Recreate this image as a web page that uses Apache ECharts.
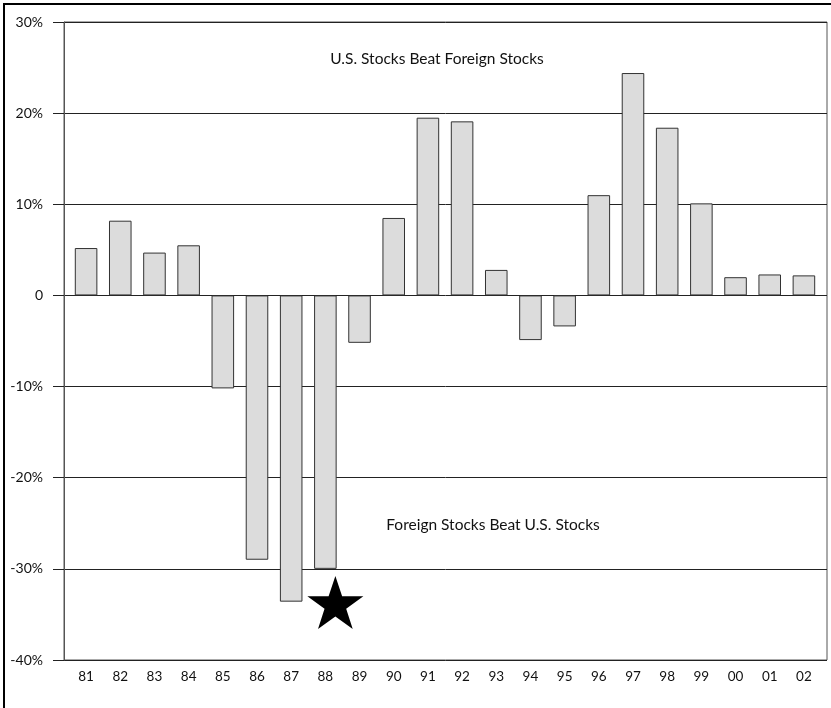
<!DOCTYPE html>
<html>
<head>
<meta charset="utf-8">
<script src="https://cdn.jsdelivr.net/npm/echarts@6/dist/echarts.min.js"></script>
<style>
  html, body { margin: 0; padding: 0; background: #fff; }
  #main { width: 831px; height: 708px; }
</style>
</head>
<body>
<div id="main"></div>
<script>
// years (two-digit labels)
var years = ['81', '82', '83', '84', '85', '86', '87', '88', '89', '90', '91',
  '92', '93', '94', '95', '96', '97', '98', '99', '00', '01', '02'];
// US minus foreign return, %
var diffs = [5.2, 8.2, 4.7, 5.5, -10.2, -29.0, -33.6, -30.0, -5.2, 8.5, 19.5,
  19.1, 2.8, -4.9, -3.4, 11.0, 24.4, 18.4, 10.1, 2.0, 2.3, 2.2];
// star marker under 1988
var starYear = '88';
var starValue = -33.7;

var font = 'Lato, "DejaVu Sans", sans-serif';
var starPath = 'path://M50,0 L61.8,35.1 L98.9,35.1 L68.9,56.9 L80.3,92.1 L50,70.3 L19.7,92.1 L31.1,56.9 L1.1,35.1 L38.2,35.1 Z';

var chart = echarts.init(document.getElementById('main'));
chart.setOption({
  animation: false,
  // grid 0 = frame + gridlines, grid 1 = bars (slightly inset like the original)
  grid: [
    { left: 64, right: 4, top: 22, bottom: 48, show: true, borderColor: '#555', borderWidth: 1 },
    { left: 69, right: 10, top: 22, bottom: 48 }
  ],
  xAxis: [
    { type: 'category', gridIndex: 0, data: years, show: false },
    {
      type: 'category', gridIndex: 1, data: years,
      axisLine: { show: false },
      axisTick: { show: false },
      axisLabel: { color: '#111', fontSize: 13.5, fontFamily: font, margin: 10 }
    }
  ],
  yAxis: [
    {
      type: 'value', gridIndex: 0,
      min: -40, max: 30, interval: 10,
      axisLine: { show: true, lineStyle: { color: '#555' } },
      axisTick: { show: true, length: 11, lineStyle: { color: '#222' } },
      splitLine: { lineStyle: { color: '#222', width: 1 } },
      axisLabel: {
        color: '#111', fontSize: 14, fontFamily: font, margin: 21,
        formatter: function (v) { return v === 0 ? '0' : v + '%'; }
      }
    },
    { type: 'value', gridIndex: 1, min: -40, max: 30, interval: 10, show: false, splitLine: { show: false } }
  ],
  series: [
    {
      type: 'bar',
      xAxisIndex: 1, yAxisIndex: 1,
      data: diffs,
      barWidth: '66%',
      itemStyle: { color: '#dcdcdc', borderColor: '#333', borderWidth: 1 }
    },
    {
      type: 'scatter',
      xAxisIndex: 1, yAxisIndex: 1,
      data: [[starYear, starValue]],
      symbol: starPath,
      symbolSize: [56, 53],
      symbolOffset: [10, 0],
      itemStyle: { color: '#000', opacity: 1 },
      z: 5
    }
  ],
  graphic: [
    {
      type: 'rect',
      shape: { x: 4, y: 4, width: 860, height: 740 },
      style: { fill: 'none', stroke: '#000', lineWidth: 2 },
      silent: true
    },
    {
      type: 'text', x: 437, y: 59,
      style: {
        text: 'U.S. Stocks Beat Foreign Stocks', fill: '#111',
        font: '15.5px ' + font, align: 'center', verticalAlign: 'middle'
      }
    },
    {
      type: 'text', x: 493, y: 525,
      style: {
        text: 'Foreign Stocks Beat U.S. Stocks', fill: '#111',
        font: '15.5px ' + font, align: 'center', verticalAlign: 'middle'
      }
    }
  ]
});
</script>
</body>
</html>
